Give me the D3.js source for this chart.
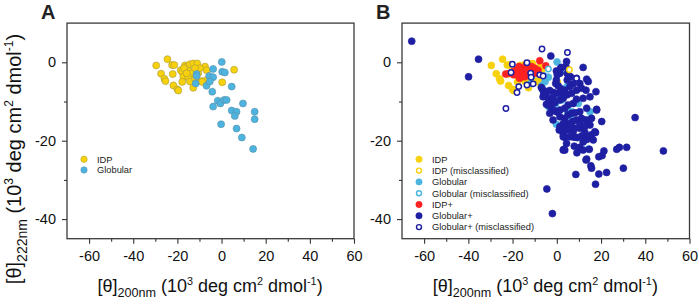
<!DOCTYPE html>
<html>
<head>
<meta charset="utf-8">
<title>CD scatter</title>
<script src="https://cdn.jsdelivr.net/npm/d3@7/dist/d3.min.js"></script>
<style>
  body { margin: 0; background: #fff; }
  text { font-family: Arial, "Liberation Sans", sans-serif; }
</style>
</head>
<body>
<div id="viz"></div>
<script>
// values are [theta200, theta222] in 10^3 deg cm2 dmol-1
var idp = [[-29.6,-0.8],[-24.5,0.8],[-27.4,-2.9],[-25.9,-4.2],[-25.4,-4.8],[-22.4,-0.7],[-21.4,-0.7],
  [-22.1,-3.0],[-21.8,-5.9],[-20,-6.9],[-19.6,-7.2],[-18.5,-2.0],[-17.8,-2.5],[-16.6,-0.8],[-15.8,-1.1],
  [-17.3,-3.7],[-17.8,-5.0],[-15.1,-2.1],[-14.3,-0.5],[-12.8,-0.3],[-11,-0.3],[-13.5,-2.8],[-15.1,-3.8],
  [-14.3,-4.9],[-12.8,-6.5],[-12,-4.1],[-10.6,-2.8],[-9,-4.8],[-7.5,-1.1],[-6.8,-2.0],[-9.8,-1.5],
  [-6.8,-4.5],[-8.8,-5.0],[0.3,-5.1],[-17,-1.5],[-12,-1.5],[-15.8,-2.8]];
var idpMis = [[5.7,-1.9]];
var glob = [[0.1,0.1],[0.3,-2.4],[1.5,-2.6],[-11.3,-3.0],[-11.3,-3.5],[-11.7,-5.4],[-5.6,-3.5],[-3.8,-3.8],
  [-6.8,-6.0],[-5.3,-4.9],[-4.2,-7.5],[4.6,-6.2],[-1.7,-9.8],[-0.5,-10.5],[1.2,-9.6],[2.3,-9.6],[-3.8,-11.3],
  [9.7,-10.5],[4.6,-12.3],[6.8,-12.6],[6,-13.7],[15,-12.6],[15,-14.5],[-0.2,-15.8],[6.8,-16.9],[9.2,-19.2],
  [14.3,-22.1]];
var globMis = [[-3.8,-1.7]];
var idpPlus = [[-23.1,-3.0],[-21.3,-2.8],[-19.5,-3.2],[-18.3,-2.0],[-17.1,-1.1],[-16,-2.6],[-15.3,-1.5],
  [-14.5,-3.7],[-13.8,-0.7],[-12.5,-2.0],[-11.5,-1.1],[-10.7,-2.8],[-10,-1.5],[-8.5,-2.0],[-7.7,0.4],
  [-5,-0.9],[-16.8,-4.1],[-18,-3.2],[-19.8,-2.4],[-13.8,-2.8],[-9.2,-2.8]];
var globPlus = [[1.4,-2.8],[2.1,-1.3],[4.1,-1.1],[11.9,-1.3],[5.1,-3.2],[8.9,-4.1],[13.5,-4.3],[14.2,-4.9],
  [10.4,-5.4],[7.4,-5.5],[5.9,-6.2],[3.6,-7.1],[2.1,-7.5],[0.6,-7.9],[-1.4,-7.7],[-3.2,-7.2],[-4.7,-7.5],
  [-5.4,-8.3],[-3.9,-9.2],[-2.4,-10.0],[-0.9,-10.3],[1.4,-9.6],[2.9,-9.2],[4.7,-8.3],[6.7,-7.9],[8.9,-7.1],
  [11.2,-6.6],[13.2,-7.1],[17.7,-7.5],[15.0,-8.8],[11.9,-9.2],[8.9,-9.4],[7.4,-10.5],[5.1,-10.9],[3.6,-11.7],
  [1.4,-12.2],[-0.2,-12.6],[-1.4,-12.2],[-2.9,-11.3],[-3.9,-10.9],[1.4,-13.9],[3.6,-14.3],[5.1,-13.4],
  [6.7,-13.0],[8.2,-12.9],[10.4,-12.6],[13.5,-11.7],[18.0,-12.2],[15.7,-14.3],[13.2,-14.7],[11.2,-14.3],
  [8.9,-14.7],[7.1,-15.1],[5.1,-15.6],[2.9,-15.6],[2.9,-16.9],[5.1,-17.3],[7.4,-17.7],[10.4,-16.8],
  [12.7,-16.4],[15.0,-16.0],[20.3,-15.1],[17.2,-17.7],[15.7,-18.5],[14.2,-19.1],[11.2,-18.8],[9.2,-19.2],
  [7.7,-19.1],[5.9,-19.0],[3.6,-19.1],[11.9,-20.3],[13.5,-19.7],[16.5,-19.8],[10.4,-21.7],[7.9,-21.4],
  [11.9,-22.4],[14.7,-22.2],[13.2,-24.9],[-0.2,-4.5],[0.2,-3.2],[4.7,-4.5],[0.6,-6.0],[-0.5,-5.4],[1.7,-6.7],
  [-6.5,-6.9],[-5.9,-7.9],[-1.7,-8.9],[4.4,-20.7],[17.5,-17.9],[12.7,-17.9],[10.4,-15.6],[8.2,-16.8],
  [5.9,-16.4],[2.9,-18.3],[1.1,-17.3],[4.7,-2.8],[6.2,-3.7],[-0.2,-2.2],[18,-12],[-7,-6.4],[-6.2,-8.8],
  [-4.7,-10.7],[-3.2,-13],[-1.7,-14.7],[1.4,-16.4],[2.9,-19],[3.6,-22.4],[4.4,0.2],[1.7,-1.5],
  [-65.6,5.4],[-35.4,0.8],[-39.9,-3.7],[-2.7,1.6],[35.4,-14.1],[48.2,-22.6],[31.6,-21.7],[28.3,-21.7],
  [27.1,-22.2],[30.1,-27],[22.5,-28.1],[19,-28.5],[17.5,-31.1],[21.3,-22.6],[20.5,-23.8],[19,-24.1],
  [15.4,-26.4],[15.7,-27],[13.5,-24.7],[8.6,-28.6],[9.1,-23.1],[2.9,-22.4],[3.2,-22.2],[-4.5,-32.3],
  [-2,-38.6]];
var globPlusMis = [[-20.1,-0.5],[-20.7,-2.6],[-13.5,-0.1],[-11.8,-2.8],[-11.6,-3.8],[-10.7,-5.5],
  [-13.5,-5.8],[-17.2,-6.2],[-18,-7.7],[-23,-11.8],[-6.7,3.4],[-7.7,-3.2],[-6.2,-3.5],[4.8,2.5],[8.9,-4.1]];

var xTicks = [-60, -40, -20, 0, 20, 40, 60];
var xMinor = [-50, -30, -10, 10, 30, 50];
var yTicks = [0, -20, -40];
var yMinor = [-10, -30];

var YEL = "#f6d10c", LBL = "#4db4df", RED = "#ff2222", DBL = "#1f1fa3";

var w = 699, h = 305;
var svg = d3.select("#viz").append("svg")
  .attr("width", w).attr("height", h)
  .attr("viewBox", "0 0 " + w + " " + h);

function axisTitle(sel, sub, size) {
  sel.append("tspan").text("[θ]");
  sel.append("tspan").attr("dy", size * 0.3).attr("font-size", size * 0.7).text(sub);
  sel.append("tspan").attr("dy", -size * 0.3).text(" (10");
  sel.append("tspan").attr("dy", -size * 0.4).attr("font-size", size * 0.6).text("3");
  sel.append("tspan").attr("dy", size * 0.4).text(" deg cm");
  sel.append("tspan").attr("dy", -size * 0.4).attr("font-size", size * 0.6).text("2");
  sel.append("tspan").attr("dy", size * 0.4).text(" dmol");
  sel.append("tspan").attr("dy", -size * 0.4).attr("font-size", size * 0.6).text("-1");
  sel.append("tspan").attr("dy", size * 0.4).text(")");
}

function panel(x0, x1, name, layers, legend, lx) {
  var x = d3.scaleLinear().domain([-70, 60]).range([x0, x1]);
  var y = d3.scaleLinear().domain([-45, 10]).range([238.7, 23.1]);
  var g = svg.append("g");

  // major and minor ticks need their own groups, the axis reuses .tick nodes
  g.append("g").attr("transform", "translate(0," + y(-45) + ")")
    .call(d3.axisBottom(x).tickValues(xTicks).tickSize(5).tickPadding(7).tickFormat(d => String(d)));
  g.append("g").attr("transform", "translate(0," + y(-45) + ")")
    .call(d3.axisBottom(x).tickValues(xMinor).tickSize(3).tickFormat(""));
  g.append("g").attr("transform", "translate(" + x0 + ",0)")
    .call(d3.axisLeft(y).tickValues(yTicks).tickSize(5).tickPadding(6).tickFormat(d => String(d)));
  g.append("g").attr("transform", "translate(" + x0 + ",0)")
    .call(d3.axisLeft(y).tickValues(yMinor).tickSize(3).tickFormat(""));
  g.selectAll(".domain").remove();
  g.selectAll(".tick line").attr("stroke", "#333").attr("stroke-width", 1.1);
  g.selectAll(".tick text").attr("font-size", 14.5).attr("fill", "#111")
    .attr("font-family", "Arial, 'Liberation Sans', sans-serif");

  g.append("rect")
    .attr("x", x0).attr("y", y(10))
    .attr("width", x1 - x0).attr("height", y(-45) - y(10))
    .attr("fill", "none").attr("stroke", "#3a3a3a").attr("stroke-width", 1.3);

  layers.forEach(function(L) {
    g.append("g").selectAll("circle").data(L.data).enter().append("circle")
      .attr("cx", d => x(d[0])).attr("cy", d => y(d[1]))
      .attr("r", L.open ? 2.7 : 3.5)
      .attr("fill", L.open ? "#fff" : L.color)
      .attr("stroke", L.open ? L.color : L.edge)
      .attr("stroke-width", L.open ? 1.5 : 0.6);
  });

  var lg = g.append("g");
  legend.forEach(function(L, i) {
    var yy = 159.3 + i * (legend.length > 2 ? 11.3 : 10.7);
    lg.append("circle").attr("cx", lx).attr("cy", yy)
      .attr("r", L.open ? 2.5 : 3.2)
      .attr("fill", L.open ? "#fff" : L.color)
      .attr("stroke", L.open ? L.color : L.edge)
      .attr("stroke-width", L.open ? 1.4 : 0.5);
    lg.append("text").attr("x", lx + 13).attr("y", yy + 3.3)
      .attr("font-size", 9.3).attr("fill", "#222").text(L.label);
  });

  svg.append("text").attr("x", x0 - 26).attr("y", 18.5)
    .attr("font-size", 20).attr("font-weight", "bold").attr("fill", "#222").text(name);

  svg.append("text").attr("x", (x0 + x1) / 2 - 0.5).attr("y", 292)
    .attr("text-anchor", "middle").attr("font-size", 18).attr("fill", "#111")
    .call(axisTitle, "200nm", 18);
}

var yelA = { data: idp.concat(idpMis), color: YEL, edge: "#a89a40", label: "IDP" };
var bluA = { data: glob.concat(globMis), color: LBL, edge: "#5a8fa8", label: "Globular" };
panel(67, 354, "A", [yelA, bluA], [yelA, bluA], 84);

var lIdp = { data: idp, color: YEL, edge: YEL, label: "IDP" };
var lIdpM = { data: idpMis, color: YEL, open: true, label: "IDP (misclassified)" };
var lGlob = { data: glob, color: LBL, edge: LBL, label: "Globular" };
var lGlobM = { data: globMis, color: LBL, open: true, label: "Globular (misclassified)" };
var lIdpP = { data: idpPlus, color: RED, edge: RED, label: "IDP+" };
var lGlobP = { data: globPlus, color: DBL, edge: DBL, label: "Globular+" };
var lGlobPM = { data: globPlusMis, color: DBL, open: true, label: "Globular+ (misclassified)" };
panel(402, 689.5, "B", [lIdp, lGlob, lIdpP, lGlobP, lIdpM, lGlobM, lGlobPM],
  [lIdp, lIdpM, lGlob, lGlobM, lIdpP, lGlobP, lGlobPM], 419);

// y title, only left of panel A
svg.append("text")
  .attr("transform", "translate(21,159) rotate(-90)")
  .attr("text-anchor", "middle").attr("font-size", 20).attr("fill", "#111")
  .call(axisTitle, "222nm", 20);
</script>
</body>
</html>
